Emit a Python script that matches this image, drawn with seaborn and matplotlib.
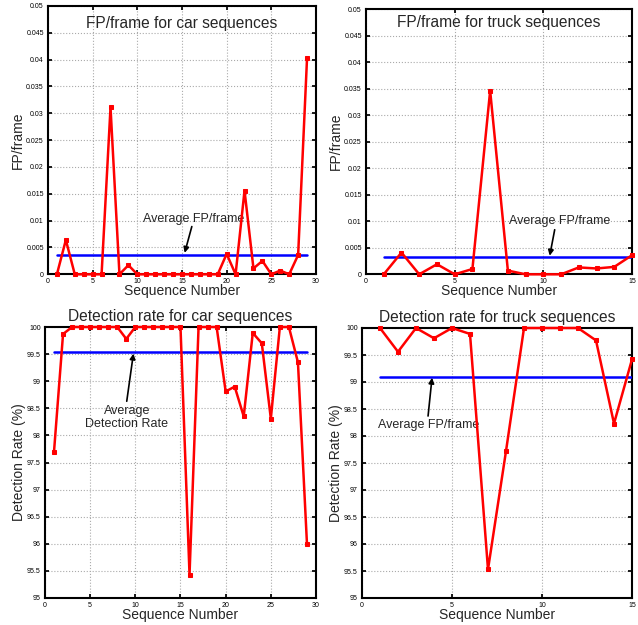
import matplotlib
matplotlib.use("Agg")
import matplotlib.pyplot as plt
import seaborn as sns
import numpy as np
import pandas as pd

# ---- data ----
car_seq = list(range(1, 30))
car_fp = [0, 0.0064, 0, 0, 0, 0, 0.0311, 0, 0.0017, 0,
          0, 0, 0, 0, 0, 0, 0, 0, 0, 0.0038,
          0, 0.0156, 0.0011, 0.0025, 0, 0.0007, 0, 0.0036, 0.0404]
car_fp_avg = 0.00366

truck_seq = list(range(1, 16))
truck_fp = [0, 0.0041, 0, 0.0019, 0, 0.0010, 0.0346, 0.0007, 0, 0,
            0, 0.0013, 0.0011, 0.0014, 0.0036]
truck_fp_avg = 0.0033

car_dr = [97.70, 99.87, 100, 100, 100, 100, 100, 100, 99.78, 100,
          100, 100, 100, 100, 100, 95.43, 100, 100, 100, 98.81,
          98.90, 98.35, 99.89, 99.70, 98.31, 100, 100, 99.35, 96.0]
car_dr_avg = 99.54

truck_dr = [100, 99.56, 100, 99.81, 100, 99.89, 95.53, 97.72, 100, 100,
            100, 100, 99.77, 98.23, 99.42]
truck_dr_avg = 99.09

sns.set_theme(style="white")
plt.rcParams['font.family'] = ['Liberation Sans', 'DejaVu Sans']

fig = plt.figure(figsize=(6.38, 6.25), dpi=100)

def style_ax(ax, xlim, xticks, ylim, yticks, yticklabels, xlabel, ylabel):
    ax.set_xlim(*xlim)
    ax.set_ylim(*ylim)
    ax.set_xticks(xticks)
    ax.set_yticks(yticks)
    ax.set_yticklabels(yticklabels)
    ax.set_xticklabels([str(t) for t in xticks])
    ax.grid(True, linestyle=':', color='#aaaaaa', linewidth=0.8)
    ax.tick_params(direction='in', length=3, labelsize=5, top=True, right=True,
                   bottom=True, left=True, pad=3, colors='black')
    for s in ax.spines.values():
        s.set_color('black')
        s.set_linewidth(1.5)
    ax.set_xlabel(xlabel, fontsize=10, labelpad=-1)
    ax.set_ylabel(ylabel, fontsize=10, labelpad=1)

def draw(ax, x, y, avg, avg_x):
    df = pd.DataFrame({'x': x, 'y': y})
    sns.lineplot(data=df, x='x', y='y', ax=ax, color='red', linewidth=1.8,
                 marker='s', markersize=3.5, markeredgecolor='red',
                 markerfacecolor='red')
    for ln in ax.lines:
        ln.set_clip_on(False)
        ln.set_zorder(4)
    ax.plot(avg_x, [avg, avg], color='blue', linewidth=1.8, zorder=3)

def arrow(ax, start, end):
    ax.annotate('', xy=end, xytext=start,
                arrowprops=dict(arrowstyle='-|>', color='black', lw=1.2,
                                mutation_scale=8, shrinkA=0, shrinkB=0))

# Top-left: car FP
ax1 = fig.add_axes([0.0752, 0.5611, 0.4201, 0.4293])
draw(ax1, car_seq, car_fp, car_fp_avg, [1, 29])
style_ax(ax1, (0, 30), [0, 5, 10, 15, 20, 25, 30], (0, 0.05),
         np.arange(0, 0.0501, 0.005),
         ['0', '0.005', '0.01', '0.015', '0.02', '0.025', '0.03', '0.035', '0.04', '0.045', '0.05'],
         'Sequence Number', 'FP/frame')
ax1.text(0.5, 0.935, 'FP/frame for car sequences', transform=ax1.transAxes,
         ha='center', va='center', fontsize=11.2)
ax1.text(16.3, 0.0104, 'Average FP/frame', ha='center', va='center', fontsize=9)
arrow(ax1, (16.1, 0.0089), (15.3, 0.0040))

# Top-right: truck FP
ax2 = fig.add_axes([0.5737, 0.5611, 0.4169, 0.4245])
draw(ax2, truck_seq, truck_fp, truck_fp_avg, [1, 15])
style_ax(ax2, (0, 15), [0, 5, 10, 15], (0, 0.05),
         np.arange(0, 0.0501, 0.005),
         ['0', '0.005', '0.01', '0.015', '0.02', '0.025', '0.03', '0.035', '0.04', '0.045', '0.05'],
         'Sequence Number', 'FP/frame')
ax2.text(0.5, 0.95, 'FP/frame for truck sequences', transform=ax2.transAxes,
         ha='center', va='center', fontsize=11.2)
ax2.text(10.9, 0.0101, 'Average FP/frame', ha='center', va='center', fontsize=9)
arrow(ax2, (10.64, 0.0084), (10.36, 0.0035))

dr_ticks = np.arange(95, 100.01, 0.5)
dr_labels = ['95', '95.5', '96', '96.5', '97', '97.5', '98', '98.5', '99', '99.5', '100']

# Bottom-left: car detection rate
ax3 = fig.add_axes([0.0705, 0.0432, 0.4248, 0.4336])
draw(ax3, car_seq, car_dr, car_dr_avg, [1, 29])
style_ax(ax3, (0, 30), [0, 5, 10, 15, 20, 25, 30], (95, 100), dr_ticks, dr_labels,
         'Sequence Number', 'Detection Rate (%)')
ax3.set_title('Detection rate for car sequences', fontsize=11.2, pad=4)
ax3.text(9.05, 98.33, 'Average\nDetection Rate', ha='center', va='center',
         fontsize=9, linespacing=1.05)
arrow(ax3, (9.05, 98.63), (9.79, 99.51))

# Bottom-right: truck detection rate
ax4 = fig.add_axes([0.5674, 0.0432, 0.4232, 0.4320])
draw(ax4, truck_seq, truck_dr, truck_dr_avg, [1, 15])
style_ax(ax4, (0, 15), [0, 5, 10, 15], (95, 100), dr_ticks, dr_labels,
         'Sequence Number', 'Detection Rate (%)')
ax4.set_title('Detection rate for truck sequences', fontsize=11.2, pad=4)
ax4.text(3.7, 98.21, 'Average FP/frame', ha='center', va='center', fontsize=9)
arrow(ax4, (3.67, 98.37), (3.89, 99.08))

fig.savefig('out.png', dpi=100)
